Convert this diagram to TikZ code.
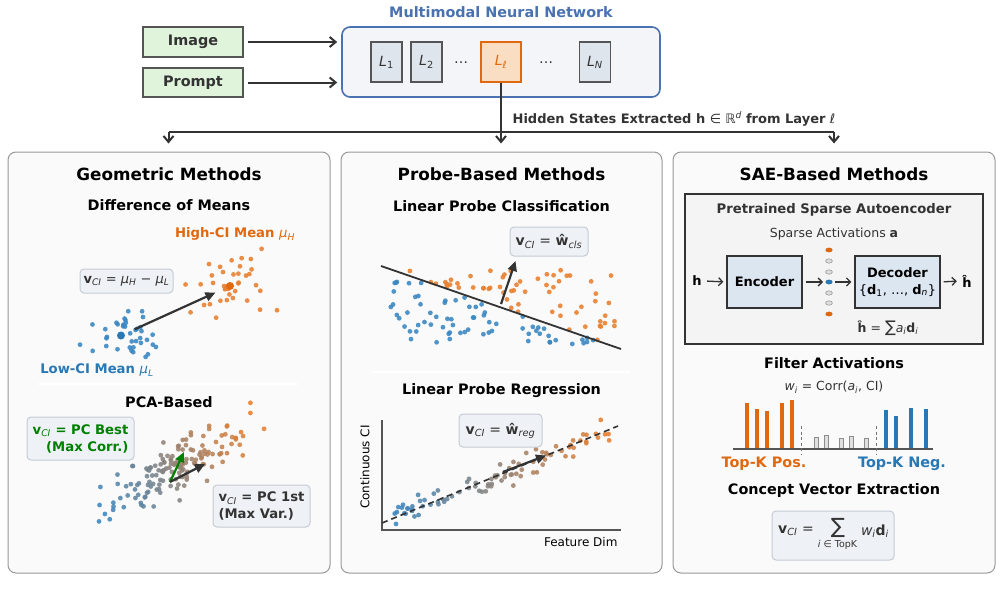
\documentclass[tikz,border=0pt]{standalone}
\usepackage{fontspec}
\setmainfont{DejaVu Sans}[BoldFont={DejaVu Sans Bold},ItalicFont={DejaVu Sans Oblique},BoldItalicFont={DejaVu Sans Bold Oblique}]
\usetikzlibrary{arrows.meta}
\definecolor{ink}{HTML}{333333}
\definecolor{netblue}{HTML}{4A72B0}
\definecolor{netfill}{HTML}{F4F5F8}
\definecolor{layfill}{HTML}{DEE5EC}
\definecolor{layline}{HTML}{555555}
\definecolor{lfill}{HTML}{F9DEC3}
\definecolor{orangeT}{HTML}{E0690F}
\definecolor{blueT}{HTML}{2878B5}
\definecolor{greenfill}{HTML}{E0F3DB}
\definecolor{panelfill}{HTML}{FAFAFA}
\definecolor{panelline}{HTML}{999999}
\definecolor{eqfill}{HTML}{EEF1F5}
\definecolor{eqline}{HTML}{C5CCD6}
\definecolor{sorange}{HTML}{E8802F}
\definecolor{sblue}{HTML}{3A87C2}
\definecolor{encfill}{HTML}{DCE6F0}
\definecolor{saefill}{HTML}{F4F4F4}
\definecolor{darkgreen}{HTML}{008000}
\newcommand\mi[1]{{\mdseries\itshape #1}}
\newcommand\vci{\textbf{v}\textsubscript{\mi{CI}}}
\begin{document}
\begin{tikzpicture}[x=1pt,y=-1pt,
  ttl/.style={font=\fontsize{16.8}{20}\selectfont\bfseries, text=black},
  subt/.style={font=\fontsize{14.4}{17}\selectfont\bfseries, text=black},
  lbl/.style={font=\fontsize{13.2}{16}\selectfont\bfseries},
  inbox/.style={draw=layline, fill=greenfill, line width=1.2pt, minimum width=100pt, minimum height=30pt, inner sep=0pt, font=\fontsize{14.4}{17}\selectfont\bfseries, text=ink},
  layer/.style={draw=layline, fill=layfill, line width=1.2pt, minimum width=31pt, minimum height=40pt, inner sep=0pt, font=\fontsize{14}{16}\selectfont, text=ink},
  panel/.style={draw=panelline, fill=panelfill, line width=1pt, rounded corners=8pt, minimum width=322pt, minimum height=421pt, inner sep=0pt},
  eqbox/.style={draw=eqline, fill=eqfill, line width=1pt, rounded corners=4pt, inner sep=0pt, text=ink},
  enc/.style={draw=ink, fill=encfill, line width=1.2pt, inner sep=0pt, text=black},
  arr/.style={draw=ink, line width=2pt, -{Straight Barb[length=6pt,width=10pt,line width=2pt]}},
  sarr/.style={draw=ink, line width=1.3pt, -{Straight Barb[length=4pt,width=8pt,line width=1.3pt]}},
  parr/.style={line width=2.2pt, -{Triangle[length=10pt,width=9pt]}},
  dot/.style={opacity=.88}]
\useasboundingbox (0,0) rectangle (1002,608);
\fill[white] (0,0) rectangle (1002,608);

% ---------- top ----------
\node[inbox] (img) at (193,42) {Image};
\node[inbox, minimum height=29pt] (prm) at (193,82.5) {Prompt};
\node[draw=netblue, fill=netfill, line width=1.6pt, rounded corners=8pt, minimum width=318pt, minimum height=70pt] (net) at (501,62) {};
\node[font=\fontsize{14.4}{17}\selectfont\bfseries, text=netblue] (nett) at (501,12) {Multimodal Neural Network};
\draw[arr, shorten <=4pt, shorten >=4pt] (img.east) -- (img.east -| net.west);
\draw[arr, shorten <=4pt, shorten >=4pt] (prm.east) -- (prm.east -| net.west);
\node[layer] (L1) at (386.5,62) {\textit{L}\textsubscript{1}};
\node[layer] (L2) at (426.5,62) {\textit{L}\textsubscript{2}};
\node[font=\fontsize{14}{16}\selectfont, text=ink] (d1) at (461,63) {…};
\node[layer, draw=orangeT, fill=lfill, minimum width=40pt, text=orangeT] (Ll) at (501,62) {\textit{L}\textsubscript{\textit{ℓ}}};
\node[font=\fontsize{14}{16}\selectfont, text=ink] (d2) at (546,63) {…};
\node[layer] (LN) at (595,62) {\textit{L}\textsubscript{\textit{N}}};

\coordinate (jn) at (501,131.5);
\coordinate (jl) at (168.5,131.5);
\coordinate (jr) at (834,131.5);
\draw[ink, line width=2pt] (Ll.south) -- (jn);
\draw[ink, line width=2pt] (jl) -- (jr);
\node[font=\fontsize{13}{15}\selectfont\bfseries, text=ink] (hid) at (674,119) {Hidden States Extracted h \mdseries∈ ℝ\textsuperscript{\textit{d}} \bfseries from Layer \mi{ℓ}};

% ---------- panels ----------
\node[panel] (p1) at (169,362.5) {};
\node[panel, minimum width=321pt] (p2) at (501.5,362.5) {};
\node[panel] (p3) at (834,362.5) {};
\draw[arr, shorten >=8pt] (jl) -- (jl |- p1.north);
\draw[arr, shorten >=8pt] (jn) -- (jn |- p2.north);
\draw[arr, shorten >=8pt] (jr) -- (jr |- p3.north);

% ---------- panel 1: geometric ----------
\node[ttl] (t1) at (169,174) {Geometric Methods};
\node[subt] (s1a) at (169,205) {Difference of Means};
\pgfmathsetseed{11}
\foreach \i in {1,...,38}{
  \pgfmathsetmacro\px{121+21*(rand+rand+rand)/1.2}
  \pgfmathsetmacro\py{335+15*(rand+rand+rand)/1.2}
  \fill[sblue, dot] (\px,\py) circle (2.4pt);
}
\foreach \i in {1,...,38}{
  \pgfmathsetmacro\px{230+21*(rand+rand+rand)/1.2}
  \pgfmathsetmacro\py{286+19*(rand+rand+rand)/1.2}
  \fill[sorange, dot] (\px,\py) circle (2.4pt);
}
\coordinate (muL) at (121,335.5);
\coordinate (muH) at (230,286);
\fill[blueT] (muL) circle (4pt);
\fill[orangeT] (muH) circle (4pt);
\draw[parr, ink, shorten <=15pt, shorten >=16pt] (muL) -- (muH);
\node[eqbox, minimum width=93pt, minimum height=24pt, font=\fontsize{13}{15}\selectfont] (eq1) at (126.5,281) {\vci\ = \mi{μ}\textsubscript{\mi{H}} − \mi{μ}\textsubscript{\mi{L}}};
\node[lbl, text=orangeT] (hi) at (235,234) {High-CI Mean \mi{μ}\textsubscript{\mi{H}}};
\node[lbl, text=blueT] (lo) at (97,370) {Low-CI Mean \mi{μ}\textsubscript{\mi{L}}};
\draw[white, line width=1.5pt] (38,384) -- (298,384);
\node[subt] (s1b) at (169,402) {PCA-Based};
\foreach \i in {1,...,150}{
  \pgfmathsetmacro\pu{42*(rand+rand+rand)}
  \pgfmathsetmacro\pv{12*(rand+rand+rand)}
  \pgfmathsetmacro\px{176+0.869*\pu+0.494*\pv}
  \pgfmathsetmacro\py{470-0.494*\pu+0.869*\pv}
  \pgfmathtruncatemacro\cc{max(0,min(100,50+0.6*\pu))}
  \fill[sorange!\cc!sblue, dot] (\px,\py) circle (2.4pt);
}
\coordinate (pc0) at (170,482);
\coordinate (pcg) at (184,452);
\coordinate (pck) at (205,464);
\draw[parr, darkgreen] (pc0) -- (pcg);
\draw[parr, ink] (pc0) -- (pck);
\node[eqbox, minimum width=107pt, minimum height=43pt, align=right, text=darkgreen, font=\fontsize{13.2}{17}\selectfont\bfseries] (pcb) at (80.5,438.5) {\vci\ = PC Best\\(Max Corr.)};
\node[eqbox, minimum width=97pt, minimum height=42pt, align=left, font=\fontsize{13.2}{17}\selectfont\bfseries] (pc1) at (261.5,506) {\vci\ = PC 1st\\(Max Var.)};

% ---------- panel 2: probe ----------
\node[ttl] (t2) at (501.5,174) {Probe-Based Methods};
\node[subt] (s2a) at (501.5,206) {Linear Probe Classification};
\coordinate (dl1) at (381,266);
\coordinate (dl2) at (621,349);
\foreach \i in {1,...,130}{
  \pgfmathsetmacro\px{501+115*rand}
  \pgfmathsetmacro\py{307+37*rand}
  \pgfmathtruncatemacro\side{\py<(266+(\px-381)*0.3458) ? 1 : 0}
  \ifnum\side=1 \fill[sorange, dot] (\px,\py) circle (2.4pt);
  \else \fill[sblue, dot] (\px,\py) circle (2.4pt);\fi
}
\draw[ink, line width=1.8pt] (dl1) -- (dl2);
\coordinate (cw0) at (501,304);
\coordinate (cw1) at (515.5,261);
\draw[parr, ink] (cw0) -- (cw1);
\node[eqbox, minimum width=78pt, minimum height=29pt, font=\fontsize{14}{16}\selectfont] (eq2) at (549,241.5) {\vci\ = \textbf{ŵ}\textsubscript{\mi{cls}}};
\draw[white, line width=1.5pt] (372,372) -- (630,372);
\node[subt] (s2b) at (501.5,391) {Linear Probe Regression};
\coordinate (ax0) at (382,530);
\coordinate (axy) at (382,420);
\coordinate (axx) at (621,530);
\foreach \i in {1,...,90}{
  \pgfmathsetmacro\px{499+111*rand}
  \pgfmathsetmacro\py{min(527,523-(\px-382)*0.411+6.5*(rand+rand+rand))}
  \pgfmathtruncatemacro\cc{max(0,min(100,(\px-392)/2.1))}
  \fill[sorange!\cc!sblue, dot] (\px,\py) circle (2.4pt);
}
\draw[layline, line width=1.3pt] (axy) -- (ax0) -- (axx);
\coordinate (rl1) at (382,523);
\coordinate (rl2) at (618,426);
\draw[ink, line width=1.6pt, dash pattern=on 6pt off 4pt] (rl1) -- (rl2);
\coordinate (rw0) at (503,472);
\coordinate (rw1) at (546,455.5);
\draw[parr, ink] (rw0) -- (rw1);
\node[eqbox, minimum width=83pt, minimum height=33pt, font=\fontsize{14}{16}\selectfont] (eq3) at (500.5,430.5) {\vci\ = \textbf{ŵ}\textsubscript{\mi{reg}}};
\node[font=\fontsize{12}{14}\selectfont, text=black, rotate=90] (ylab) at (365,467) {Continuous CI};
\node[font=\fontsize{12}{14}\selectfont, text=black, anchor=east] (xlab) at (621,542) {Feature Dim};

% ---------- panel 3: SAE ----------
\node[ttl] (t3) at (834,174) {SAE-Based Methods};
\node[draw=ink, fill=saefill, line width=1.2pt, minimum width=298pt, minimum height=150pt, inner sep=0pt] (sae) at (834,269) {};
\node[font=\fontsize{13.2}{16}\selectfont\bfseries, text=ink] (saet) at (834,210) {Pretrained Sparse Autoencoder};
\node[font=\fontsize{12.5}{15}\selectfont, text=ink] (sact) at (834,234) {Sparse Activations \textbf{a}};
\node[font=\fontsize{13}{15}\selectfont\bfseries, text=black] (hin) at (697,281) {h};
\node[enc, minimum width=75pt, minimum height=52pt, font=\fontsize{13}{15}\selectfont\bfseries] (encn) at (764.5,282) {Encoder};
\node[enc, minimum width=85pt, minimum height=52pt, align=center, font=\fontsize{13}{16}\selectfont] (decn) at (897.5,282) {\textbf{Decoder}\\[1pt]\{\textbf{d}\textsubscript{1}, …, \textbf{d}\textsubscript{\mi{n}}\}};
\node[font=\fontsize{13}{15}\selectfont\bfseries, text=black] (hout) at (967,281) {ĥ};
\foreach \yy/\cl in {250/o,261/g,272/g,282/b,293/g,303/g,314/o}{
  \if o\cl \fill[orangeT] (829,\yy) ellipse (3.6pt and 2.4pt);\fi
  \if b\cl \fill[blueT] (829,\yy) ellipse (3.6pt and 2.4pt);\fi
  \if g\cl \filldraw[fill=black!13, draw=black!45, line width=0.5pt] (829,\yy) ellipse (3.4pt and 2.2pt);\fi
}
\coordinate (act) at (829,282);
\draw[sarr, shorten <=2pt, shorten >=3pt] (hin.east) -- (encn.west);
\draw[sarr, shorten <=3pt, shorten >=6pt] (encn.east) -- (act);
\draw[sarr, shorten <=6pt, shorten >=3pt] (act) -- (decn.west);
\draw[sarr, shorten <=3pt, shorten >=2pt] (decn.east) -- (hout.west);
\node[font=\fontsize{12.5}{15}\selectfont, text=ink] (recon) at (888,328) {\textbf{ĥ} = {\fontsize{16}{16}\selectfont∑}\mi{a}\textsubscript{\mi{i}}\textbf{d}\textsubscript{\mi{i}}};

\node[subt] (s3b) at (834,363) {Filter Activations};
\node[font=\fontsize{12.5}{15}\selectfont, text=ink] (corr) at (834,387) {\mi{w}\textsubscript{\mi{i}} = Corr(\mi{a}\textsubscript{\mi{i}}, CI)};
\foreach \bx/\bt in {747/403,757/409,767/411,782/403,792/400}{
  \fill[orangeT] (\bx-2,449) rectangle (\bx+2,\bt);
}
\foreach \bx/\bt in {886/410,896/416,911/408,926/409}{
  \fill[blueT] (\bx-2,449) rectangle (\bx+2,\bt);
}
\foreach \bx/\bt in {816/437,826/435,841/438,851/436,866/438}{
  \filldraw[fill=black!12, draw=black!45, line width=0.6pt] (\bx-2,449) rectangle (\bx+2,\bt);
}
\draw[layline, line width=1.5pt] (733,449) -- (933,449);
\draw[black!55, line width=1pt, dash pattern=on 3pt off 2.5pt] (801,426) -- (801,454);
\draw[black!55, line width=1pt, dash pattern=on 3pt off 2.5pt] (876,426) -- (876,454);
\node[font=\fontsize{14.4}{17}\selectfont\bfseries, text=orangeT] (tkp) at (764,464) {Top-K Pos.};
\node[font=\fontsize{14.4}{17}\selectfont\bfseries, text=blueT] (tkn) at (902,464) {Top-K Neg.};
\node[subt] (s3c) at (834,491) {Concept Vector Extraction};
\node[eqbox, minimum width=122pt, minimum height=49pt] (cv) at (833,535.5) {};
\node[font=\fontsize{14}{16}\selectfont, text=ink] (cva) at (796,531) {\vci\ =};
\node[font=\fontsize{21}{22}\selectfont, text=ink] (cvs) at (838,528) {∑};
\node[font=\fontsize{9.5}{11}\selectfont, text=ink] (cvi) at (837.5,545) {\mi{i} ∈ TopK};
\node[font=\fontsize{14}{16}\selectfont, text=ink] (cvw) at (875,531) {\mi{w}\textsubscript{\mi{i}}\textbf{d}\textsubscript{\mi{i}}};
\end{tikzpicture}
\end{document}
